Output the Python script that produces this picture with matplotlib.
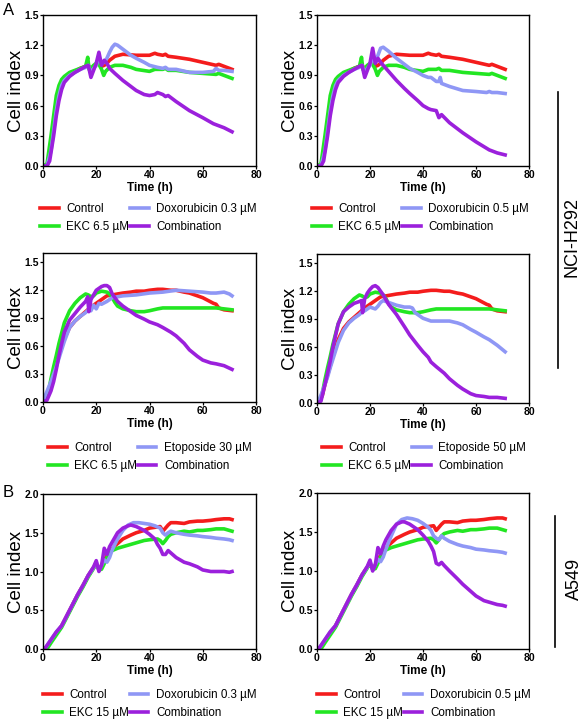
import matplotlib
matplotlib.use('Agg')
import matplotlib.pyplot as plt

plt.rcParams['font.family'] = ['Liberation Sans', 'DejaVu Sans']

RED = '#f41c1c'
GREEN = '#22e622'
LAV = '#8f97f5'
PURPLE = '#9b20dc'

# ---- NCI-H292, doxorubicin experiments (top row) ----
h1_ctrl_t = [0, 1.5, 3, 4, 5, 6, 7, 8, 10, 12, 14, 16, 17, 18, 19, 20, 21, 22, 23, 24, 25, 27, 30, 35, 40, 41, 42, 43, 45, 46, 47, 50, 55, 60, 65, 66, 68, 71]
h1_ctrl_v = [0, 0, 0.2, 0.4, 0.6, 0.73, 0.82, 0.86, 0.91, 0.94, 0.97, 0.99, 1.0, 0.96, 0.98, 1.01, 1.05, 0.99, 1.0, 1.02, 1.05, 1.09, 1.11, 1.10, 1.10, 1.11, 1.12, 1.11, 1.10, 1.11, 1.09, 1.08, 1.06, 1.03, 1.00, 1.01, 0.99, 0.96]
h1_ekc_t = [0, 1.5, 3, 4, 5, 6, 7, 8, 10, 12, 14, 16, 16.8, 17.3, 18, 19, 20, 21, 22, 22.8, 23.5, 25, 27, 30, 33, 35, 40, 42, 45, 46, 47, 50, 55, 60, 65, 66, 68, 71]
h1_ekc_v = [0, 0.02, 0.3, 0.5, 0.7, 0.8, 0.86, 0.89, 0.93, 0.95, 0.97, 0.99, 1.08, 0.96, 0.97, 1.0, 1.02, 1.01, 0.96, 0.90, 0.94, 0.98, 1.0, 1.0, 0.98, 0.96, 0.94, 0.96, 0.96, 0.97, 0.95, 0.95, 0.93, 0.92, 0.91, 0.92, 0.90, 0.87]

dox03_t = [0, 1.5, 3, 4, 5, 6, 7, 8, 10, 12, 14, 16, 17, 18, 19, 20, 21, 22, 23, 24, 25, 26, 27, 28, 30, 33, 35, 38, 40, 43, 45, 46, 47, 50, 55, 60, 64, 65, 66, 68, 71]
dox03_v = [0, 0, 0.15, 0.35, 0.55, 0.7, 0.8, 0.85, 0.9, 0.93, 0.96, 0.98, 1.0, 0.92, 0.97, 1.0, 1.08, 1.02, 1.03, 1.07, 1.13, 1.18, 1.21, 1.20, 1.16, 1.10, 1.07, 1.03, 1.0, 0.98, 0.97, 0.98, 0.96, 0.96, 0.93, 0.93, 0.94, 0.97, 0.95, 0.95, 0.94]
comb1_t = [0, 1.5, 2.5, 4, 5, 6, 7, 8, 10, 12, 14, 16, 17, 18, 19, 20, 21, 22, 23, 24, 25, 27, 30, 33, 35, 38, 40, 42, 43, 45, 46, 47, 50, 55, 60, 64, 65, 66, 68, 71]
comb1_v = [0, 0, 0.05, 0.3, 0.5, 0.65, 0.76, 0.83, 0.89, 0.93, 0.96, 0.99, 1.0, 0.88, 0.95, 1.02, 1.13, 1.0, 1.05, 1.02, 0.97, 0.92, 0.85, 0.79, 0.75, 0.71, 0.70, 0.71, 0.73, 0.71, 0.69, 0.70, 0.64, 0.55, 0.48, 0.42, 0.41, 0.40, 0.38, 0.34]

dox05_t = [0, 1.5, 3, 4, 5, 6, 7, 8, 10, 12, 14, 16, 17, 18, 19, 20, 21, 22, 23, 24, 25, 27, 30, 33, 35, 38, 40, 42, 43, 45, 46, 46.5, 47, 50, 55, 60, 64, 65, 66, 68, 71]
dox05_v = [0, 0, 0.15, 0.35, 0.55, 0.7, 0.8, 0.85, 0.9, 0.93, 0.96, 0.98, 1.0, 0.92, 0.97, 1.0, 1.08, 1.03, 1.10, 1.17, 1.18, 1.14, 1.07, 1.01, 0.97, 0.93, 0.90, 0.88, 0.88, 0.84, 0.84, 0.88, 0.82, 0.79, 0.75, 0.74, 0.73, 0.74, 0.73, 0.73, 0.72]
comb2_t = [0, 1.5, 2.5, 4, 5, 6, 7, 8, 10, 12, 14, 16, 17, 18, 19, 20, 21, 22, 23, 24, 25, 27, 30, 33, 35, 38, 40, 42, 43, 45, 46, 47, 50, 55, 60, 65, 68, 71]
comb2_v = [0, 0, 0.05, 0.3, 0.5, 0.65, 0.76, 0.83, 0.89, 0.93, 0.96, 0.99, 1.0, 0.88, 0.95, 1.02, 1.17, 1.02, 1.07, 1.03, 1.0, 0.94, 0.85, 0.77, 0.72, 0.65, 0.60, 0.57, 0.56, 0.55, 0.48, 0.51, 0.43, 0.33, 0.24, 0.16, 0.13, 0.11]

# ---- NCI-H292, etoposide experiments (middle row) ----
h2_ctrl_t = [0, 1, 2, 3, 4, 5, 6, 8, 10, 12, 14, 16, 18, 20, 22, 24, 26, 28, 30, 33, 35, 38, 40, 43, 45, 48, 50, 53, 55, 58, 60, 62, 64, 65, 66, 68, 71]
h2_ctrl_v = [0, 0.02, 0.08, 0.2, 0.3, 0.4, 0.5, 0.68, 0.8, 0.87, 0.92, 0.97, 1.02, 1.06, 1.1, 1.14, 1.15, 1.16, 1.17, 1.18, 1.19, 1.19, 1.2, 1.21, 1.21, 1.2, 1.2, 1.18, 1.17, 1.14, 1.12, 1.09, 1.06, 1.05, 1.01, 0.99, 0.98]
h2_ekc_t = [0, 1, 2, 3, 4, 5, 6, 8, 10, 12, 14, 16, 17, 18, 19, 20, 22, 24, 25, 26, 27, 28, 30, 33, 35, 38, 40, 43, 45, 50, 55, 60, 65, 68, 71]
h2_ekc_v = [0, 0.02, 0.1, 0.25, 0.38, 0.5, 0.63, 0.85, 0.98, 1.06, 1.12, 1.16, 1.15, 1.13, 1.14, 1.17, 1.19, 1.18, 1.16, 1.12, 1.07, 1.03, 1.0, 0.98, 0.97, 0.97, 0.98, 1.0, 1.01, 1.01, 1.01, 1.01, 1.01, 1.0, 0.99]

eto30_t = [0, 1, 2, 3, 4, 5, 6, 8, 10, 12, 14, 16, 17, 18, 19, 20, 21, 22, 24, 26, 28, 30, 35, 40, 45, 50, 55, 60, 63, 65, 68, 70, 71]
eto30_v = [0, 0.08, 0.15, 0.22, 0.3, 0.38, 0.47, 0.65, 0.8, 0.87, 0.92, 0.96, 0.99, 0.98, 1.04, 1.0, 1.06, 1.05, 1.08, 1.12, 1.13, 1.14, 1.15, 1.17, 1.18, 1.2, 1.19, 1.18, 1.17, 1.17, 1.18, 1.16, 1.14]
comb3_t = [0, 1.5, 3, 4, 5, 6, 8, 10, 12, 14, 16, 16.8, 17.2, 18, 20, 22, 23, 24, 25, 26, 28, 30, 33, 35, 38, 40, 43, 45, 48, 50, 53, 55, 58, 60, 63, 65, 68, 71]
comb3_v = [0, 0.02, 0.12, 0.22, 0.35, 0.5, 0.75, 0.88, 0.95, 1.02, 1.08, 1.13, 0.97, 1.1, 1.2, 1.24, 1.25, 1.25, 1.23, 1.16, 1.08, 1.03, 0.97, 0.93, 0.89, 0.86, 0.83, 0.80, 0.75, 0.71, 0.63, 0.56, 0.49, 0.45, 0.42, 0.41, 0.39, 0.35]

eto50_t = [0, 1, 2, 3, 4, 5, 6, 8, 10, 12, 14, 16, 17, 18, 19, 20, 22, 23, 24, 25, 26, 28, 30, 33, 35, 36, 37, 40, 43, 45, 48, 50, 53, 55, 58, 60, 63, 65, 68, 71]
eto50_v = [0, 0.05, 0.12, 0.2, 0.28, 0.38, 0.47, 0.65, 0.78, 0.86, 0.91, 0.95, 0.98, 0.99, 1.01, 1.03, 1.01, 1.04, 1.08, 1.10, 1.09, 1.07, 1.05, 1.03, 1.03, 1.02, 0.97, 0.91, 0.88, 0.88, 0.88, 0.88, 0.86, 0.84, 0.79, 0.76, 0.71, 0.68, 0.62, 0.55]
comb4_t = [0, 1.5, 3, 4, 5, 6, 8, 10, 12, 14, 16, 16.8, 17.2, 18, 19, 20, 21, 22, 23, 24, 25, 27, 30, 33, 35, 38, 40, 42, 43, 45, 48, 50, 53, 55, 58, 60, 63, 65, 68, 71]
comb4_v = [0, 0.02, 0.2, 0.32, 0.45, 0.6, 0.85, 0.98, 1.03, 1.07, 1.09, 1.10, 0.97, 1.12, 1.18, 1.22, 1.25, 1.26, 1.24, 1.20, 1.16, 1.06, 0.95, 0.82, 0.73, 0.62, 0.55, 0.49, 0.44, 0.39, 0.32, 0.26, 0.19, 0.15, 0.10, 0.08, 0.07, 0.06, 0.06, 0.05]

# ---- A549, doxorubicin experiments (bottom row) ----
a_ctrl_t = [0, 1, 3, 5, 7, 10, 13, 15, 17, 19, 20, 21, 22, 23, 24, 25, 27, 30, 33, 35, 38, 40, 42, 44, 45, 46, 47, 48, 50, 53, 55, 58, 60, 63, 65, 68, 70, 71]
a_ctrl_v = [0, 0.01, 0.1, 0.2, 0.3, 0.5, 0.7, 0.82, 0.95, 1.05, 1.08, 1.04, 1.08, 1.15, 1.2, 1.25, 1.33, 1.42, 1.47, 1.5, 1.53, 1.56, 1.57, 1.58, 1.52, 1.56, 1.6, 1.63, 1.63, 1.62, 1.64, 1.65, 1.65, 1.66, 1.67, 1.68, 1.68, 1.67]
a_ekc_t = [0, 1.5, 3, 5, 7, 10, 13, 15, 17, 19, 20, 21, 22, 23, 24, 25, 26, 28, 30, 33, 35, 38, 40, 43, 44, 45, 46, 47, 48, 50, 53, 55, 58, 60, 63, 65, 68, 70, 71]
a_ekc_v = [0, 0, 0.08, 0.18, 0.28, 0.48, 0.68, 0.8, 0.93, 1.04, 1.1, 1.02, 1.03, 1.10, 1.18, 1.24, 1.27, 1.3, 1.32, 1.35, 1.37, 1.4, 1.41, 1.42, 1.40, 1.36, 1.40, 1.45, 1.48, 1.50, 1.52, 1.51, 1.53, 1.53, 1.54, 1.55, 1.55, 1.53, 1.52]

adox03_t = [0, 1, 3, 5, 7, 10, 13, 15, 17, 19, 20, 21, 22, 23, 24, 25, 26, 28, 30, 32, 34, 36, 38, 40, 42, 44, 45, 46, 47, 48, 50, 53, 55, 58, 60, 63, 65, 68, 70, 71]
adox03_v = [0, 0.02, 0.12, 0.22, 0.3, 0.5, 0.7, 0.82, 0.95, 1.05, 1.12, 1.02, 1.08, 1.15, 1.12, 1.18, 1.28, 1.42, 1.53, 1.6, 1.63, 1.63, 1.62, 1.61, 1.59, 1.56, 1.5, 1.47, 1.5, 1.52, 1.5, 1.48, 1.47, 1.46, 1.45, 1.44, 1.43, 1.42, 1.41, 1.40]
acomb1_t = [0, 1, 3, 5, 7, 10, 13, 15, 17, 19, 20, 21, 22, 23, 24, 25, 26, 28, 30, 32, 33, 35, 38, 40, 42, 43, 44, 45, 46, 47, 48, 50, 53, 55, 58, 60, 63, 65, 68, 70, 71]
acomb1_v = [0, 0.02, 0.12, 0.22, 0.3, 0.5, 0.7, 0.82, 0.95, 1.06, 1.14, 1.0, 1.08, 1.3, 1.22, 1.32, 1.38, 1.5, 1.56, 1.59, 1.6, 1.58, 1.53, 1.48, 1.42, 1.35, 1.3, 1.22, 1.22, 1.27, 1.24, 1.18, 1.12, 1.10, 1.06, 1.02, 1.0, 1.0, 1.0, 0.99, 1.0]

adox05_t = [0, 1, 3, 5, 7, 10, 13, 15, 17, 19, 20, 21, 22, 23, 24, 25, 26, 28, 30, 32, 34, 36, 38, 40, 42, 43, 44, 45, 46, 47, 48, 50, 53, 55, 58, 60, 63, 65, 68, 70, 71]
adox05_v = [0, 0.02, 0.12, 0.22, 0.3, 0.5, 0.7, 0.82, 0.95, 1.05, 1.12, 1.02, 1.08, 1.15, 1.12, 1.18, 1.28, 1.45, 1.6, 1.66, 1.68, 1.67, 1.65, 1.61, 1.56, 1.52, 1.45, 1.42, 1.40, 1.45, 1.42, 1.38, 1.34, 1.32, 1.30, 1.28, 1.27, 1.26, 1.25, 1.24, 1.23]
acomb2_t = [0, 1, 3, 5, 7, 10, 13, 15, 17, 19, 20, 21, 22, 23, 24, 25, 26, 28, 30, 32, 33, 35, 38, 40, 42, 43, 44, 45, 46, 47, 48, 50, 53, 55, 58, 60, 63, 65, 68, 70, 71]
acomb2_v = [0, 0.02, 0.12, 0.22, 0.3, 0.5, 0.7, 0.82, 0.95, 1.06, 1.14, 1.0, 1.08, 1.3, 1.22, 1.32, 1.4, 1.52, 1.6, 1.63, 1.63, 1.6, 1.53, 1.46, 1.38, 1.32, 1.25, 1.10, 1.08, 1.11, 1.07, 1.0, 0.90, 0.83, 0.74, 0.68, 0.62, 0.60, 0.57, 0.56, 0.55]

panels = [
    # box = (left, top, width, height) in pixels, leg = legend top-left in pixels
    dict(box=(43, 15, 213, 151), drug='Doxorubicin 0.3 \u00b5M', ekc='EKC 6.5 \u00b5M',
         ctrl=(h1_ctrl_t, h1_ctrl_v), ekcs=(h1_ekc_t, h1_ekc_v), drg=(dox03_t, dox03_v), comb=(comb1_t, comb1_v),
         ylim=1.5, yticks=[0, 0.3, 0.6, 0.9, 1.2, 1.5], leg=(40, 203)),
    dict(box=(317, 15, 212, 151), drug='Doxorubicin 0.5 \u00b5M', ekc='EKC 6.5 \u00b5M',
         ctrl=(h1_ctrl_t, h1_ctrl_v), ekcs=(h1_ekc_t, h1_ekc_v), drg=(dox05_t, dox05_v), comb=(comb2_t, comb2_v),
         ylim=1.5, yticks=[0, 0.3, 0.6, 0.9, 1.2, 1.5], leg=(312, 203)),
    dict(box=(43, 253, 213, 149), drug='Etoposide 30 \u00b5M', ekc='EKC 6.5 \u00b5M',
         ctrl=(h2_ctrl_t, h2_ctrl_v), ekcs=(h2_ekc_t, h2_ekc_v), drg=(eto30_t, eto30_v), comb=(comb3_t, comb3_v),
         ylim=1.6, yticks=[0, 0.3, 0.6, 0.9, 1.2, 1.5], leg=(48, 442)),
    dict(box=(317, 254, 212, 149), drug='Etoposide 50 \u00b5M', ekc='EKC 6.5 \u00b5M',
         ctrl=(h2_ctrl_t, h2_ctrl_v), ekcs=(h2_ekc_t, h2_ekc_v), drg=(eto50_t, eto50_v), comb=(comb4_t, comb4_v),
         ylim=1.6, yticks=[0, 0.3, 0.6, 0.9, 1.2, 1.5], leg=(322, 442)),
    dict(box=(43, 494, 213, 155), drug='Doxorubicin 0.3 \u00b5M', ekc='EKC 15 \u00b5M',
         ctrl=(a_ctrl_t, a_ctrl_v), ekcs=(a_ekc_t, a_ekc_v), drg=(adox03_t, adox03_v), comb=(acomb1_t, acomb1_v),
         ylim=2.0, yticks=[0, 0.5, 1.0, 1.5, 2.0], leg=(43, 689)),
    dict(box=(317, 493, 212, 156), drug='Doxorubicin 0.5 \u00b5M', ekc='EKC 15 \u00b5M',
         ctrl=(a_ctrl_t, a_ctrl_v), ekcs=(a_ekc_t, a_ekc_v), drg=(adox05_t, adox05_v), comb=(acomb2_t, acomb2_v),
         ylim=2.0, yticks=[0, 0.5, 1.0, 1.5, 2.0], leg=(317, 689)),
]

W, H = 588, 723
fig = plt.figure(figsize=(W / 100, H / 100), dpi=100)

for p in panels:
    x0, y0, w, h = p['box']
    ax = fig.add_axes([x0 / W, 1 - (y0 + h) / H, w / W, h / H])
    lw = 2.6
    l1, = ax.plot(*p['ctrl'], color=RED, lw=lw, label='Control')
    l2, = ax.plot(*p['ekcs'], color=GREEN, lw=lw, label=p['ekc'])
    l3, = ax.plot(*p['drg'], color=LAV, lw=lw, label=p['drug'])
    l4, = ax.plot(*p['comb'], color=PURPLE, lw=lw, label='Combination')
    ax.set_xlim(0, 80)
    ax.set_ylim(0, p['ylim'])
    ax.set_xticks([0, 20, 40, 60, 80])
    ax.set_yticks(p['yticks'])
    ax.set_yticklabels(['%.1f' % v for v in p['yticks']])
    ax.tick_params(labelsize=7.5, length=2, width=0.9, pad=0.8)
    for lab in ax.get_xticklabels() + ax.get_yticklabels():
        lab.set_fontweight('bold')
    for s in ax.spines.values():
        s.set_linewidth(1.0)
    ax.set_xlabel('Time (h)', fontsize=8.5, fontweight='bold', labelpad=1.5)
    ax.set_ylabel('Cell index', fontsize=13.5, labelpad=0)
    lx, ly = p['leg']
    ax.legend(handles=[l1, l2, l3, l4], loc='upper left', ncol=2, frameon=False,
              bbox_to_anchor=(lx / W, 1 - ly / H), bbox_transform=fig.transFigure,
              fontsize=8.4, handlelength=1.6, handletextpad=0.65, columnspacing=0.05,
              labelspacing=0.55, borderpad=0, borderaxespad=0)

fig.text(3 / W, 1 - 3 / H, 'A', fontsize=12, va='top', ha='left')
fig.text(3 / W, 1 - 485 / H, 'B', fontsize=12, va='top', ha='left')

# side brackets for the cell lines
fig.add_artist(plt.Line2D([558 / W, 558 / W], [1 - 92 / H, 1 - 368 / H], color='black', lw=1.2))
fig.text(572 / W, 1 - 237 / H, 'NCI-H292', rotation=90, fontsize=13, ha='center', va='center')
fig.add_artist(plt.Line2D([555 / W, 555 / W], [1 - 516 / H, 1 - 647 / H], color='black', lw=1.2))
fig.text(574 / W, 1 - 579 / H, 'A549', rotation=90, fontsize=13, ha='center', va='center')

fig.savefig('out.png', dpi=100)
